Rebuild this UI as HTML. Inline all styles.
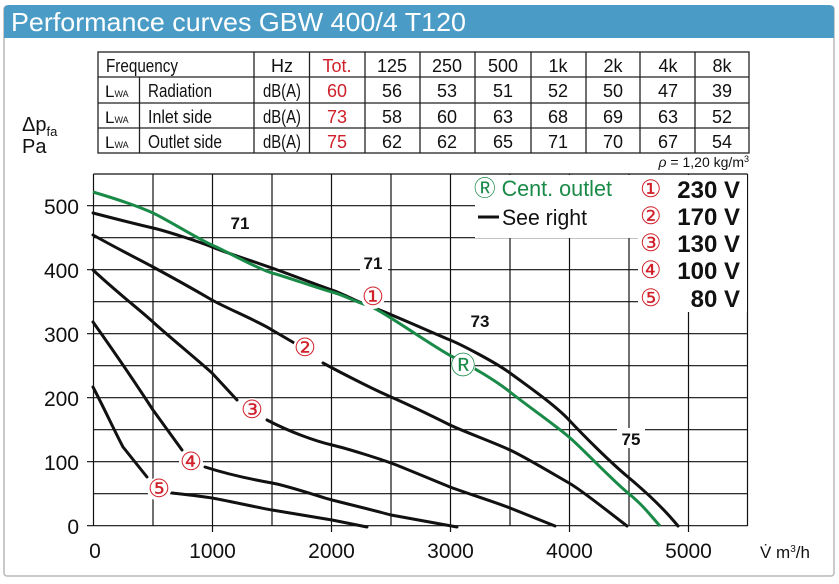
<!DOCTYPE html>
<html><head><meta charset="utf-8"><style>
body{margin:0;background:#fff;width:839px;height:579px;overflow:hidden;font-family:"Liberation Sans",sans-serif}
</style></head><body>
<svg width="839" height="579" viewBox="0 0 839 579" xmlns="http://www.w3.org/2000/svg" font-family="Liberation Sans, sans-serif">
<rect x="4" y="6" width="830" height="570" fill="#fff" stroke="#b8b8b8" stroke-width="1.5" rx="3"/>
<path d="M4 38 V10 Q4 5 9 5 H829 Q834 5 834 10 V38 Z" fill="#4a9cc6"/>
<text x="11" y="31" font-size="26" fill="#fff" textLength="455" lengthAdjust="spacingAndGlyphs">Performance curves GBW 400/4 T120</text>

<!-- table -->
<g stroke="#222" stroke-width="1.3" fill="none">
<rect x="98" y="52" width="651" height="101"/>
<line x1="98" y1="77" x2="749" y2="77"/><line x1="98" y1="103" x2="749" y2="103"/><line x1="98" y1="128" x2="749" y2="128"/>
<line x1="139.5" y1="77" x2="139.5" y2="153"/>
<line x1="254" y1="52" x2="254" y2="153"/><line x1="309.5" y1="52" x2="309.5" y2="153"/><line x1="365" y1="52" x2="365" y2="153"/><line x1="420" y1="52" x2="420" y2="153"/><line x1="475" y1="52" x2="475" y2="153"/><line x1="531" y1="52" x2="531" y2="153"/><line x1="586" y1="52" x2="586" y2="153"/><line x1="640" y1="52" x2="640" y2="153"/><line x1="695" y1="52" x2="695" y2="153"/>
</g>
<g font-size="18" fill="#111" text-anchor="middle">
<text x="106" y="72" text-anchor="start" textLength="72" lengthAdjust="spacingAndGlyphs">Frequency</text>
<text x="282" y="72">Hz</text><text x="337" y="72" fill="#d0202a">Tot.</text><text x="392" y="72">125</text><text x="447" y="72">250</text><text x="503" y="72">500</text><text x="558" y="72">1k</text><text x="613" y="72">2k</text><text x="668" y="72">4k</text><text x="722" y="72">8k</text>
<text x="282" y="97" textLength="38" lengthAdjust="spacingAndGlyphs">dB(A)</text><text x="337" y="97" fill="#d0202a">60</text><text x="392" y="97">56</text><text x="447" y="97">53</text><text x="503" y="97">51</text><text x="558" y="97">52</text><text x="613" y="97">50</text><text x="668" y="97">47</text><text x="722" y="97">39</text>
<text x="282" y="123" textLength="38" lengthAdjust="spacingAndGlyphs">dB(A)</text><text x="337" y="123" fill="#d0202a">73</text><text x="392" y="123">58</text><text x="447" y="123">60</text><text x="503" y="123">63</text><text x="558" y="123">68</text><text x="613" y="123">69</text><text x="668" y="123">63</text><text x="722" y="123">52</text>
<text x="282" y="148" textLength="38" lengthAdjust="spacingAndGlyphs">dB(A)</text><text x="337" y="148" fill="#d0202a">75</text><text x="392" y="148">62</text><text x="447" y="148">62</text><text x="503" y="148">65</text><text x="558" y="148">71</text><text x="613" y="148">70</text><text x="668" y="148">67</text><text x="722" y="148">54</text>
<text x="148" y="97" text-anchor="start" textLength="64" lengthAdjust="spacingAndGlyphs">Radiation</text>
<text x="148" y="123" text-anchor="start" textLength="64" lengthAdjust="spacingAndGlyphs">Inlet side</text>
<text x="148" y="148" text-anchor="start" textLength="74" lengthAdjust="spacingAndGlyphs">Outlet side</text>
</g>
<g font-size="17" fill="#111">
<text x="105" y="97">L<tspan font-size="9">WA</tspan></text>
<text x="105" y="123">L<tspan font-size="9">WA</tspan></text>
<text x="105" y="148">L<tspan font-size="9">WA</tspan></text>
</g>
<text x="749" y="167" font-size="14" text-anchor="end" fill="#111"><tspan font-style="italic">ρ</tspan> = 1,20 kg/m<tspan font-size="9" dy="-5">3</tspan></text>
<text x="22" y="131" font-size="20" fill="#111">Δp<tspan font-size="13" dy="5">fa</tspan></text>
<text x="22" y="153" font-size="20" fill="#111">Pa</text>

<!-- grid -->
<g stroke="#111" stroke-width="1.2">
<line x1="93.5" y1="174" x2="93.5" y2="526"/>
<line x1="153" y1="174" x2="153" y2="526"/><line x1="212.5" y1="174" x2="212.5" y2="532"/><line x1="272" y1="174" x2="272" y2="526"/><line x1="331.5" y1="174" x2="331.5" y2="532"/><line x1="391" y1="174" x2="391" y2="526"/><line x1="450.5" y1="174" x2="450.5" y2="532"/><line x1="510" y1="174" x2="510" y2="526"/><line x1="569.5" y1="174" x2="569.5" y2="532"/><line x1="629" y1="174" x2="629" y2="526"/><line x1="688.5" y1="174" x2="688.5" y2="532"/><line x1="747.5" y1="174" x2="747.5" y2="526"/>
<line x1="87" y1="525.7" x2="747.5" y2="525.7"/>
<line x1="93.5" y1="493.7" x2="747.5" y2="493.7"/><line x1="87" y1="461.7" x2="747.5" y2="461.7"/><line x1="93.5" y1="429.7" x2="747.5" y2="429.7"/><line x1="87" y1="397.7" x2="747.5" y2="397.7"/><line x1="93.5" y1="365.7" x2="747.5" y2="365.7"/><line x1="87" y1="333.7" x2="747.5" y2="333.7"/><line x1="93.5" y1="301.7" x2="747.5" y2="301.7"/><line x1="87" y1="269.7" x2="747.5" y2="269.7"/><line x1="93.5" y1="237.7" x2="747.5" y2="237.7"/><line x1="87" y1="205.7" x2="747.5" y2="205.7"/>
<line x1="93.5" y1="174" x2="747.5" y2="174"/>
</g>
<!-- legend bg -->
<rect x="475" y="175" width="272" height="63" fill="#fff"/>
<rect x="638" y="175" width="109" height="137" fill="#fff"/>

<g font-size="21" fill="#111" text-anchor="end">
<text x="79" y="214">500</text><text x="79" y="278">400</text><text x="79" y="342">300</text><text x="79" y="406">200</text><text x="79" y="470">100</text><text x="79" y="534">0</text>
</g>
<g font-size="21" fill="#111" text-anchor="middle">
<text x="95" y="558">0</text><text x="212.5" y="558">1000</text><text x="331.5" y="558">2000</text><text x="450.5" y="558">3000</text><text x="569.5" y="558">4000</text><text x="688.5" y="558">5000</text>
</g>
<text x="760" y="558" font-size="17" fill="#111">V̇  m<tspan font-size="10" dy="-6">3</tspan><tspan dy="6">/h</tspan></text>

<!-- curves -->
<g fill="none" stroke="#111" stroke-width="3" stroke-linecap="round" stroke-linejoin="round">
<path d="M93 213 C120 220,140 225,153 228 S200 242,212 247 S255 262,272 268 S320 286,332 290 S355 301,367 305 S440 336,450 340 S495 362,510 373 S555 405,569 420 S610 462,628 477 S665 510,678 526"/>
<path d="M93 235 C120 250,140 260,153 267 S200 293,212 300 S262 323,272 330 L296 344"/>
<path d="M323 363 C345 375,375 390,391 397 S440 420,450 425 S495 443,510 450 S555 475,569 483 S615 517,627 526"/>
<path d="M93 270 C120 295,140 310,153 322 S200 362,212 373 L237 400"/>
<path d="M267 420 C290 432,315 441,332 445 S380 459,391 463 S440 483,450 487 S495 502,510 508 L555 526"/>
<path d="M93 322 C120 360,140 390,153 410 L182 450"/>
<path d="M205 467 C230 475,255 480,272 483 S320 497,332 500 S380 512,391 515 L457 527"/>
<path d="M93 387 C105 410,115 432,123 447 L147 477"/>
<path d="M172 493 C190 495,200 496,212 498 S260 508,272 510 S320 518,332 520 L367 527"/>
</g>
<path d="M93 192 C120 200,140 207,153 213 S200 240,212 245 S260 270,272 273 S320 289,332 292 S355 302,367 305 S435 348,453 357 S495 380,510 392 S555 425,569 437 S612 480,628 493 S650 515,660 526" fill="none" stroke="#1a8a48" stroke-width="3"/>

<!-- curve labels -->
<g font-size="17" font-weight="bold" fill="#111" text-anchor="middle">
<rect x="227" y="212" width="28" height="20" fill="#fff"/><text x="240" y="229">71</text>
<rect x="360" y="252" width="28" height="20" fill="#fff"/><text x="373" y="269">71</text>
<rect x="466" y="310" width="30" height="20" fill="#fff"/><text x="480" y="327">73</text>
<rect x="617" y="428" width="28" height="20" fill="#fff"/><text x="631" y="445">75</text>
</g>
<g font-size="25" fill="#d0202a" text-anchor="middle">
<circle cx="373" cy="297" r="12" fill="#fff"/><text x="373" y="305">①</text>
<circle cx="305" cy="348" r="12" fill="#fff"/><text x="305" y="356">②</text>
<circle cx="252" cy="410" r="12" fill="#fff"/><text x="252" y="418">③</text>
<circle cx="191" cy="462" r="12" fill="#fff"/><text x="191" y="470">④</text>
<circle cx="159" cy="489" r="12" fill="#fff"/><text x="159" y="497">⑤</text>
<circle cx="463" cy="366" r="12" fill="#fff"/><text x="463" y="374" fill="#1a8a48">Ⓡ</text>
</g>

<!-- legend -->
<text x="474" y="196" font-size="22" fill="#1a8a48" textLength="138" lengthAdjust="spacingAndGlyphs">Ⓡ Cent. outlet</text>
<line x1="478" y1="217" x2="499" y2="217" stroke="#111" stroke-width="3"/>
<text x="502" y="225" font-size="22" fill="#111" textLength="85" lengthAdjust="spacingAndGlyphs">See right</text>
<g font-size="24" fill="#d0202a">
<text x="640" y="197">①</text><text x="640" y="224">②</text><text x="640" y="251">③</text><text x="640" y="278">④</text><text x="640" y="306">⑤</text>
</g>
<g font-size="24" font-weight="bold" fill="#111" text-anchor="end">
<text x="740" y="198">230 V</text><text x="740" y="225">170 V</text><text x="740" y="252">130 V</text><text x="740" y="279">100 V</text><text x="740" y="307">80 V</text>
</g>
</svg>
</body></html>
